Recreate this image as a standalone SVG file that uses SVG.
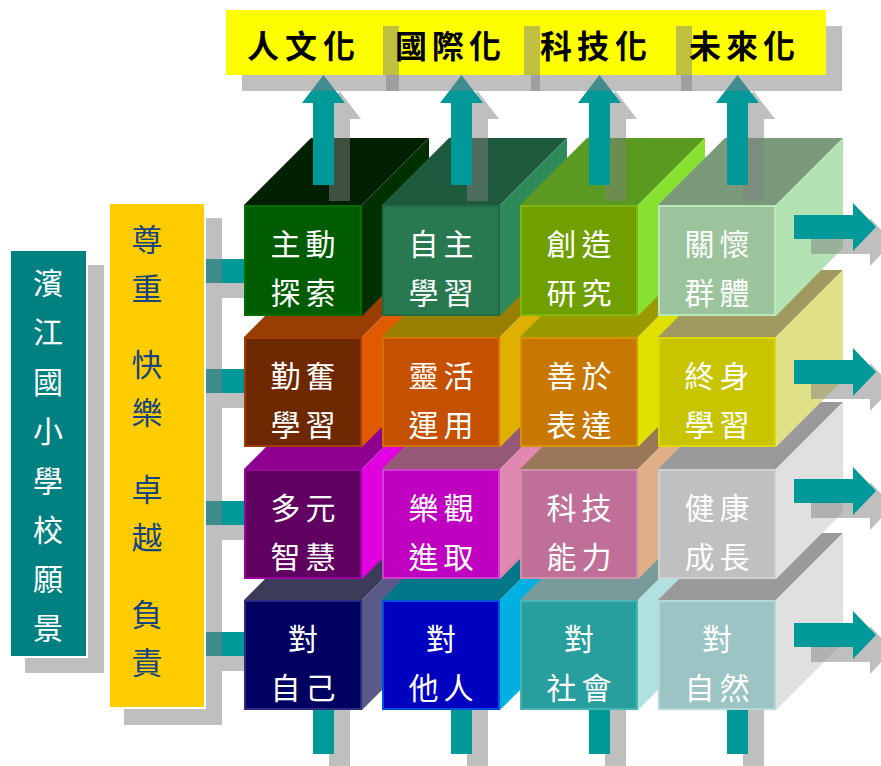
<svg xmlns="http://www.w3.org/2000/svg" xmlns:xlink="http://www.w3.org/1999/xlink" width="881" height="766" viewBox="0 0 881 766">
<defs>
<style>
.sh{fill:#808080;fill-opacity:.5}
.teal{fill:#009999}
.ct{font-family:"Noto Sans CJK TC","Noto Sans CJK SC",sans-serif;font-size:30px;fill:#ffffff;text-anchor:middle;dominant-baseline:central}
.lt{font-family:"Noto Sans CJK TC","Noto Sans CJK SC",sans-serif;font-size:32px;font-weight:bold;fill:#000000;text-anchor:middle;dominant-baseline:central}
.vt{font-family:"Noto Sans CJK TC","Noto Sans CJK SC",sans-serif;font-size:30px;fill:#ffffff;text-anchor:middle;dominant-baseline:central}
.yt{font-family:"Noto Sans CJK TC","Noto Sans CJK SC",sans-serif;font-size:31px;fill:#17457d;text-anchor:middle;dominant-baseline:central}
.fr{stroke-width:2}
</style>
<path id="up" d="M10.5,0 L32,28 L21,28 L21,110 L0,110 L0,28 L-11,28 Z"/>
<path id="rt" d="M0,-12 L59,-12 L59,-24 L82,0 L59,24 L59,12 L0,12 Z"/>
</defs>
<rect width="881" height="766" fill="#ffffff"/>

<g id="connectors">
  <!-- bottom tails -->
  <rect class="sh" x="329" y="706" width="21" height="64"/>
  <rect class="teal" x="313" y="690" width="21" height="64"/>
  <rect class="sh" x="467" y="706" width="21" height="64"/>
  <rect class="teal" x="451" y="690" width="21" height="64"/>
  <rect class="sh" x="605" y="706" width="21" height="64"/>
  <rect class="teal" x="589" y="690" width="21" height="64"/>
  <rect class="sh" x="743" y="706" width="21" height="64"/>
  <rect class="teal" x="727" y="690" width="21" height="64"/>
  <!-- left connectors -->
  <rect class="sh" x="222" y="274" width="40" height="24"/>
  <rect class="teal" x="205" y="259" width="41" height="24"/>
  <rect class="sh" x="222" y="384" width="40" height="24"/>
  <rect class="teal" x="205" y="369" width="41" height="24"/>
  <rect class="sh" x="222" y="516" width="40" height="24"/>
  <rect class="teal" x="205" y="501" width="41" height="24"/>
  <rect class="sh" x="222" y="647" width="40" height="24"/>
  <rect class="teal" x="205" y="632" width="41" height="24"/>
</g>

<!-- row 4 -->
<g id="cube-r4c1">
  <polygon points="244,600 362,600 429,533 311,533" fill="#3c3c5a"/>
  <polygon points="362,600 429,533 429,643 362,710" fill="#5a5a8a"/>
  <rect class="fr" x="245" y="601" width="116" height="108" fill="#000060" stroke="#2a2a80"/>
  <text class="ct" x="303" y="637">對</text>
  <text class="ct" x="285.5 320.5" y="686">自己</text>
</g>
<g id="cube-r4c2">
  <polygon points="382,600 500,600 567,533 449,533" fill="#00788a"/>
  <polygon points="500,600 567,533 567,643 500,710" fill="#00b0e0"/>
  <rect class="fr" x="383" y="601" width="116" height="108" fill="#0000c0" stroke="#0050e0"/>
  <text class="ct" x="441" y="637">對</text>
  <text class="ct" x="423.5 458.5" y="686">他人</text>
</g>
<g id="cube-r4c3">
  <polygon points="520,600 638,600 705,533 587,533" fill="#789a98"/>
  <polygon points="638,600 705,533 705,643 638,710" fill="#b0e0e0"/>
  <rect class="fr" x="521" y="601" width="116" height="108" fill="#289e9e" stroke="#48b4b4"/>
  <text class="ct" x="579" y="637">對</text>
  <text class="ct" x="561.5 596.5" y="686">社會</text>
</g>
<g id="cube-r4c4">
  <polygon points="658,600 776,600 843,533 725,533" fill="#9a9a9a"/>
  <polygon points="776,600 843,533 843,643 776,710" fill="#e0e0e0"/>
  <rect class="fr" x="659" y="601" width="116" height="108" fill="#9cc4c4" stroke="#b4d8d8"/>
  <text class="ct" x="717" y="637">對</text>
  <text class="ct" x="699.5 734.5" y="686">自然</text>
</g>

<!-- row 3 -->
<g id="cube-r3c1">
  <polygon points="244,469 362,469 429,402 311,402" fill="#900090"/>
  <polygon points="362,469 429,402 429,512 362,579" fill="#e000e0"/>
  <rect class="fr" x="245" y="470" width="116" height="108" fill="#600060" stroke="#9a009a"/>
  <text class="ct" x="285.5 320.5" y="506">多元</text>
  <text class="ct" x="285.5 320.5" y="555">智慧</text>
</g>
<g id="cube-r3c2">
  <polygon points="382,469 500,469 567,402 449,402" fill="#965a78"/>
  <polygon points="500,469 567,402 567,512 500,579" fill="#e088b0"/>
  <rect class="fr" x="383" y="470" width="116" height="108" fill="#c000c0" stroke="#d040d0"/>
  <text class="ct" x="423.5 458.5" y="506">樂觀</text>
  <text class="ct" x="423.5 458.5" y="555">進取</text>
</g>
<g id="cube-r3c3">
  <polygon points="520,469 638,469 705,402 587,402" fill="#987858"/>
  <polygon points="638,469 705,402 705,512 638,579" fill="#e0b088"/>
  <rect class="fr" x="521" y="470" width="116" height="108" fill="#c07098" stroke="#d090ac"/>
  <text class="ct" x="561.5 596.5" y="506">科技</text>
  <text class="ct" x="561.5 596.5" y="555">能力</text>
</g>
<g id="cube-r3c4">
  <polygon points="658,469 776,469 843,402 725,402" fill="#9a9a9a"/>
  <polygon points="776,469 843,402 843,512 776,579" fill="#e0e0e0"/>
  <rect class="fr" x="659" y="470" width="116" height="108" fill="#c0c0c0" stroke="#d0d0d0"/>
  <text class="ct" x="699.5 734.5" y="506">健康</text>
  <text class="ct" x="699.5 734.5" y="555">成長</text>
</g>

<!-- row 2 -->
<g id="cube-r2c1">
  <polygon points="244,337 362,337 429,270 311,270" fill="#993d00"/>
  <polygon points="362,337 429,270 429,380 362,447" fill="#e05a00"/>
  <rect class="fr" x="245" y="338" width="116" height="108" fill="#6e2800" stroke="#a03c00"/>
  <text class="ct" x="285.5 320.5" y="374">勤奮</text>
  <text class="ct" x="285.5 320.5" y="423">學習</text>
</g>
<g id="cube-r2c2">
  <polygon points="382,337 500,337 567,270 449,270" fill="#9a8000"/>
  <polygon points="500,337 567,270 567,380 500,447" fill="#e0b000"/>
  <rect class="fr" x="383" y="338" width="116" height="108" fill="#c45000" stroke="#d47000"/>
  <text class="ct" x="423.5 458.5" y="374">靈活</text>
  <text class="ct" x="423.5 458.5" y="423">運用</text>
</g>
<g id="cube-r2c3">
  <polygon points="520,337 638,337 705,270 587,270" fill="#9a9a00"/>
  <polygon points="638,337 705,270 705,380 638,447" fill="#e0e000"/>
  <rect class="fr" x="521" y="338" width="116" height="108" fill="#c87800" stroke="#d89400"/>
  <text class="ct" x="561.5 596.5" y="374">善於</text>
  <text class="ct" x="561.5 596.5" y="423">表達</text>
</g>
<g id="cube-r2c4">
  <polygon points="658,337 776,337 843,270 725,270" fill="#a09a60"/>
  <polygon points="776,337 843,270 843,380 776,447" fill="#e0e088"/>
  <rect class="fr" x="659" y="338" width="116" height="108" fill="#c8c400" stroke="#dcd800"/>
  <text class="ct" x="699.5 734.5" y="374">終身</text>
  <text class="ct" x="699.5 734.5" y="423">學習</text>
</g>

<!-- row 1 -->
<g id="cube-r1c1">
  <polygon points="244,205 362,205 429,138 311,138" fill="#002000"/>
  <polygon points="362,205 429,138 429,248 362,316" fill="#003000"/>
  <rect class="fr" x="245" y="206" width="116" height="109" fill="#005c00" stroke="#006e00"/>
  <text class="ct" x="285.5 320.5" y="242">主動</text>
  <text class="ct" x="285.5 320.5" y="291">探索</text>
</g>
<g id="cube-r1c2">
  <polygon points="382,205 500,205 567,138 449,138" fill="#1e5a3e"/>
  <polygon points="500,205 567,138 567,248 500,316" fill="#2e8a5a"/>
  <rect class="fr" x="383" y="206" width="116" height="109" fill="#287850" stroke="#226a46"/>
  <text class="ct" x="423.5 458.5" y="242">自主</text>
  <text class="ct" x="423.5 458.5" y="291">學習</text>
</g>
<g id="cube-r1c3">
  <polygon points="520,205 638,205 705,138 587,138" fill="#5a9a20"/>
  <polygon points="638,205 705,138 705,248 638,316" fill="#88e030"/>
  <rect class="fr" x="521" y="206" width="116" height="109" fill="#70a000" stroke="#80b810"/>
  <text class="ct" x="561.5 596.5" y="242">創造</text>
  <text class="ct" x="561.5 596.5" y="291">研究</text>
</g>
<g id="cube-r1c4">
  <polygon points="658,205 776,205 843,138 725,138" fill="#7a9a7a"/>
  <polygon points="776,205 843,138 843,248 776,316" fill="#b3e2b3"/>
  <rect class="fr" x="659" y="206" width="116" height="109" fill="#9cc49c" stroke="#b8e8b8"/>
  <text class="ct" x="699.5 734.5" y="242">關懷</text>
  <text class="ct" x="699.5 734.5" y="291">群體</text>
</g>

<g id="arrows">
  <use xlink:href="#up" class="sh" x="329" y="91"/>
  <use xlink:href="#up" class="teal" x="313" y="75"/>
  <use xlink:href="#up" class="sh" x="467" y="91"/>
  <use xlink:href="#up" class="teal" x="451" y="75"/>
  <use xlink:href="#up" class="sh" x="605" y="91"/>
  <use xlink:href="#up" class="teal" x="589" y="75"/>
  <use xlink:href="#up" class="sh" x="743" y="91"/>
  <use xlink:href="#up" class="teal" x="727" y="75"/>
  <use xlink:href="#rt" class="sh" x="811" y="242"/>
  <use xlink:href="#rt" class="teal" x="794" y="227"/>
  <use xlink:href="#rt" class="sh" x="811" y="387"/>
  <use xlink:href="#rt" class="teal" x="794" y="372"/>
  <use xlink:href="#rt" class="sh" x="811" y="506"/>
  <use xlink:href="#rt" class="teal" x="794" y="491"/>
  <use xlink:href="#rt" class="sh" x="811" y="650"/>
  <use xlink:href="#rt" class="teal" x="794" y="635"/>
</g>

<g id="goal-labels">
  <rect class="sh" x="681" y="26" width="161" height="65"/>
  <rect x="665" y="10" width="161" height="65" fill="#ffff00"/>
  <rect class="sh" x="531" y="26" width="161" height="65"/>
  <rect x="515" y="10" width="161" height="65" fill="#ffff00"/>
  <rect class="sh" x="386" y="26" width="154" height="65"/>
  <rect x="370" y="10" width="154" height="65" fill="#ffff00"/>
  <rect class="sh" x="242" y="26" width="157" height="65"/>
  <rect x="226" y="10" width="157" height="65" fill="#ffff00"/>
  <text class="lt" x="263 301 339" y="44">人文化</text>
  <text class="lt" x="411 448 485" y="44">國際化</text>
  <text class="lt" x="556 593 631" y="44">科技化</text>
  <text class="lt" x="705 742 779" y="44">未來化</text>
</g>

<g id="vision">
  <rect class="sh" x="25" y="265" width="79" height="408"/>
  <rect x="10" y="250" width="77" height="407" fill="#008080" stroke="#ffffff" stroke-width="2"/>
  <text class="vt" x="48" y="281">濱</text>
  <text class="vt" x="48" y="330">江</text>
  <text class="vt" x="48" y="380">國</text>
  <text class="vt" x="48" y="429">小</text>
  <text class="vt" x="48" y="479">學</text>
  <text class="vt" x="48" y="528">校</text>
  <text class="vt" x="48" y="577">願</text>
  <text class="vt" x="48" y="626">景</text>
</g>

<g id="values">
  <rect class="sh" x="124" y="218" width="98" height="507"/>
  <rect x="109" y="203" width="96" height="505" fill="#ffcc00" stroke="#ffffff" stroke-width="2"/>
  <text class="yt" x="147" y="237">尊</text>
  <text class="yt" x="147" y="286">重</text>
  <text class="yt" x="147" y="362">快</text>
  <text class="yt" x="147" y="410">樂</text>
  <text class="yt" x="147" y="487">卓</text>
  <text class="yt" x="147" y="535">越</text>
  <text class="yt" x="147" y="612">負</text>
  <text class="yt" x="147" y="660">責</text>
</g>
</svg>
